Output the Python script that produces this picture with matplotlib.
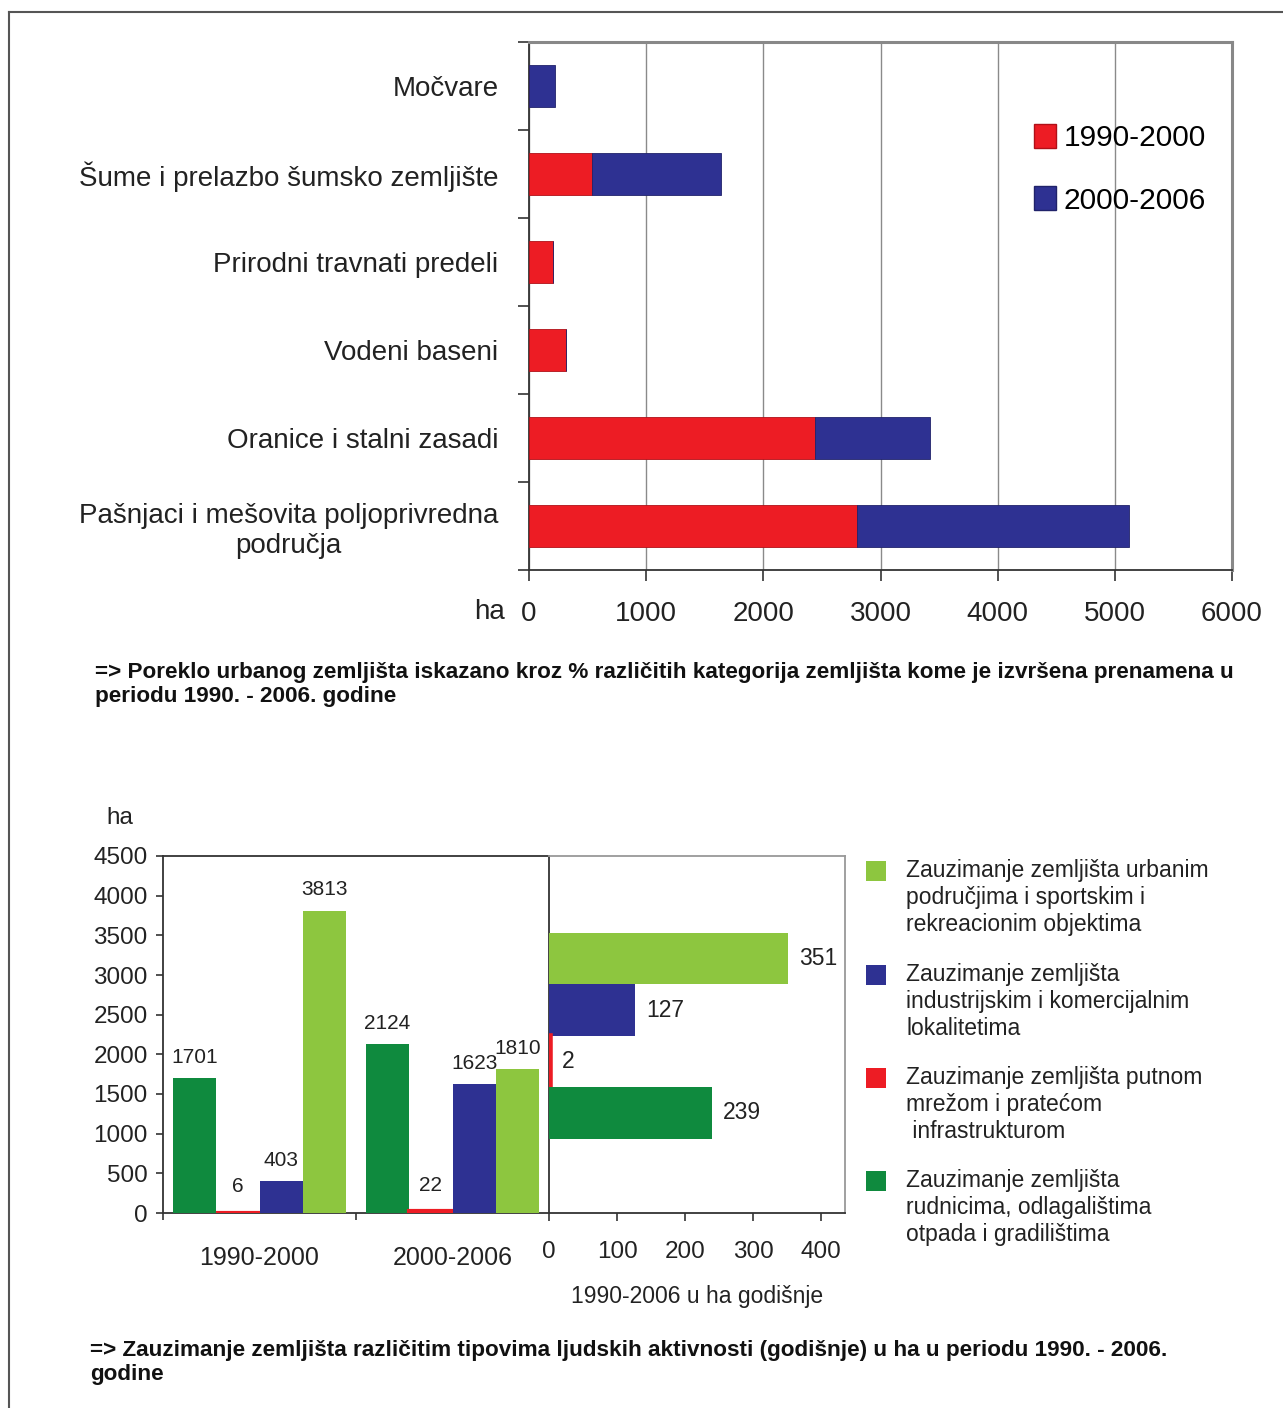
import numpy as np
import matplotlib
matplotlib.use('Agg')
import matplotlib.pyplot as plt
from matplotlib.patches import Rectangle, Patch
from matplotlib.lines import Line2D

plt.rcParams['font.family'] = ['Liberation Sans', 'DejaVu Sans']

# gornji grafikon - poreklo urbanog zemljista (ha)
kategorije = ['Močvare', 'Šume i prelazbo šumsko zemljište', 'Prirodni travnati predeli',
              'Vodeni baseni', 'Oranice i stalni zasadi',
              'Pašnjaci i mešovita poljoprivredna\npodručja']
ha_1990_2000 = [0, 537, 207, 318, 2438, 2798]
ha_2000_2006 = [223, 1103, 0, 0, 983, 2326]
x_ticks_top = [0, 1000, 2000, 3000, 4000, 5000, 6000]

# donji grafikon - zauzimanje zemljista po periodima
periodi = ['1990-2000', '2000-2006']
rudnici = [1701, 2124]
putevi = [6, 22]
industrija = [403, 1623]
urbano = [3813, 1810]

# godisnje 1990-2006 (ha)
godisnje_nazivi = ['urbano', 'industrija', 'putevi', 'rudnici']
godisnje = [351, 127, 2, 239]

legenda_tekst = ['Zauzimanje zemljišta urbanim\npodručjima i sportskim i\nrekreacionim objektima',
                 'Zauzimanje zemljišta\nindustrijskim i komercijalnim\nlokalitetima',
                 'Zauzimanje zemljišta putnom\nmrežom i pratećom\n infrastrukturom',
                 'Zauzimanje zemljišta\nrudnicima, odlagalištima\notpada i gradilištima']

CRVENA = '#ed1c24'
PLAVA = '#2e3192'
TAMNO_ZELENA = '#0f8a3e'
SVETLO_ZELENA = '#8dc63f'

W, H = 1283, 1408
fig = plt.figure(figsize=(W / 100, H / 100), dpi=100)

def fx(px):
    return px / W

def fy(py):
    return 1 - py / H

# okvir stranice
fig.add_artist(Line2D([fx(9), 1], [fy(12), fy(12)], transform=fig.transFigure, color='#555555', lw=1.5))
fig.add_artist(Line2D([fx(9), fx(9)], [fy(12), 0], transform=fig.transFigure, color='#555555', lw=1.5))

# ---------------- gornji grafikon ----------------
ax1 = fig.add_axes([fx(529), fy(570), fx(1232) - fx(529), fy(42) - fy(570)])
y = np.arange(len(kategorije))[::-1]
ax1.barh(y, ha_1990_2000, height=0.48, color=CRVENA, edgecolor='#b01018', lw=0.6, zorder=3)
ax1.barh(y, ha_2000_2006, left=ha_1990_2000, height=0.48, color=PLAVA, edgecolor='#20226a', lw=0.6, zorder=3)
ax1.set_xlim(0, 6000)
ax1.set_ylim(-0.5, len(kategorije) - 0.5)
ax1.set_xticks(x_ticks_top)
ax1.set_xticklabels([str(v) for v in x_ticks_top], fontsize=20, color='#222222')
ax1.set_yticks(y)
ax1.set_yticklabels(kategorije, fontsize=20, color='#222222', multialignment='center')
ax1.set_yticks(np.arange(-0.5, len(kategorije)), minor=True)
ax1.tick_params(axis='y', which='major', length=0, pad=22)
ax1.tick_params(axis='y', which='minor', length=8, width=1.2, color='#333333')
ax1.tick_params(axis='x', length=8, width=1.2, color='#333333', pad=14)
ax1.grid(axis='x', color='#8a8a8a', lw=1, zorder=0)
for s in ['top', 'right']:
    ax1.spines[s].set_color('#888888')
    ax1.spines[s].set_linewidth(2.2)
for s in ['left', 'bottom']:
    ax1.spines[s].set_color('#333333')
    ax1.spines[s].set_linewidth(1.3)
ax1.text(fx(505), fy(612), 'ha', transform=fig.transFigure, fontsize=20, color='#222222',
         ha='right', va='center')
# bela pozadina legende preko mreze
ax1.add_patch(Rectangle((0.70, 0.64), 0.295, 0.36, transform=ax1.transAxes, facecolor='white',
                        edgecolor='none', zorder=1))
ax1.legend(handles=[Patch(facecolor=CRVENA, edgecolor='#b01018', label='1990-2000'),
                    Patch(facecolor=PLAVA, edgecolor='#20226a', label='2000-2006')],
           loc='upper left', bbox_to_anchor=(0.718, 0.845), fontsize=21.5, frameon=False,
           borderpad=0, borderaxespad=0,
           handlelength=0.75, handleheight=0.85, handletextpad=0.25, labelspacing=1.15)

fig.text(fx(95), fy(662), '=> Poreklo urbanog zemljišta iskazano kroz % različitih kategorija zemljišta kome je izvršena prenamena u\nperiodu 1990. - 2006. godine',
         fontweight='bold', fontsize=16.2, va='top', ha='left', linespacing=1.2, color='#111111')

# ---------------- donji levi grafikon ----------------
ax2 = fig.add_axes([fx(163), fy(1213), fx(549) - fx(163), fy(856) - fy(1213)])
x = np.arange(len(periodi))
w = 0.225
serije = [(rudnici, TAMNO_ZELENA), (putevi, CRVENA), (industrija, PLAVA), (urbano, SVETLO_ZELENA)]
for i, (vals, boja) in enumerate(serije):
    bars = ax2.bar(x + (i - 1.5) * w, vals, width=w, color=boja,
                   edgecolor=boja if boja == CRVENA else 'none', lw=3 if boja == CRVENA else 0, zorder=3)
    ax2.bar_label(bars, labels=[str(v) for v in vals], padding=12 if boja == CRVENA else 8,
                  fontsize=15, color='#222222')
ax2.set_xlim(-0.5, 1.5)
ax2.set_ylim(0, 4500)
ax2.set_yticks(np.arange(0, 4501, 500))
ax2.set_yticklabels([str(v) for v in range(0, 4501, 500)], fontsize=17.5, color='#222222')
ax2.set_xticks(x)
ax2.set_xticklabels(periodi, fontsize=18, color='#222222')
ax2.set_xticks([-0.5, 0.5], minor=True)
ax2.tick_params(axis='x', which='major', length=0, pad=24)
ax2.tick_params(axis='x', which='minor', length=5, width=1.2, color='#333333')
ax2.tick_params(axis='y', length=5, width=1.2, color='#333333', pad=6)
ax2.spines['right'].set_visible(False)
for s in ['left', 'bottom', 'top']:
    ax2.spines[s].set_color('#333333')
    ax2.spines[s].set_linewidth(1.3)
ax2.text(fx(120), fy(818), 'ha', transform=fig.transFigure, fontsize=17.5, color='#222222',
         ha='center', va='center')

# ---------------- donji desni grafikon ----------------
ax3 = fig.add_axes([fx(549), fy(1213), fx(845) - fx(549), fy(856) - fy(1213)])
yy = np.arange(len(godisnje))[::-1]
boje3 = [SVETLO_ZELENA, PLAVA, CRVENA, TAMNO_ZELENA]
bars3 = ax3.barh(yy, godisnje, height=1.0, color=boje3, zorder=3,
                 edgecolor=['none', 'none', CRVENA, 'none'], lw=[0, 0, 4, 0])
ax3.bar_label(bars3, labels=[str(v) for v in godisnje], padding=8, fontsize=16.5, color='#222222')
ax3.set_xlim(0, 435)
ax3.set_ylim(-1.95, 5.0)
ax3.set_yticks([])
ax3.set_xticks([0, 100, 200, 300, 400])
ax3.set_xticklabels(['0', '100', '200', '300', '400'], fontsize=17.5, color='#222222')
ax3.tick_params(axis='x', length=6, width=1.2, color='#333333', pad=14)
ax3.set_xlabel('1990-2006 u ha godišnje', fontsize=16.5, color='#222222', labelpad=16)
for s in ['left', 'bottom']:
    ax3.spines[s].set_color('#333333')
    ax3.spines[s].set_linewidth(1.3)
for s in ['top', 'right']:
    ax3.spines[s].set_color('#999999')
    ax3.spines[s].set_linewidth(1.3)

# legenda donjeg grafikona
leg_y = [871, 975, 1078, 1181]
for tekst, boja, py in zip(legenda_tekst, boje3, leg_y):
    fig.patches.append(Rectangle((fx(866), fy(py + 10)), fx(20), 20 / H, facecolor=boja,
                                 edgecolor='none', transform=fig.transFigure, figure=fig))
    fig.text(fx(906), fy(py - 12), tekst, fontsize=16.5, color='#222222', va='top', ha='left',
             linespacing=1.22)

fig.text(fx(90), fy(1340), '=> Zauzimanje zemljišta različitim tipovima ljudskih aktivnosti (godišnje) u ha u periodu 1990. - 2006.\ngodine',
         fontweight='bold', fontsize=16.2, va='top', ha='left', linespacing=1.2, color='#111111')

fig.savefig('out.png', dpi=100, facecolor='white')
